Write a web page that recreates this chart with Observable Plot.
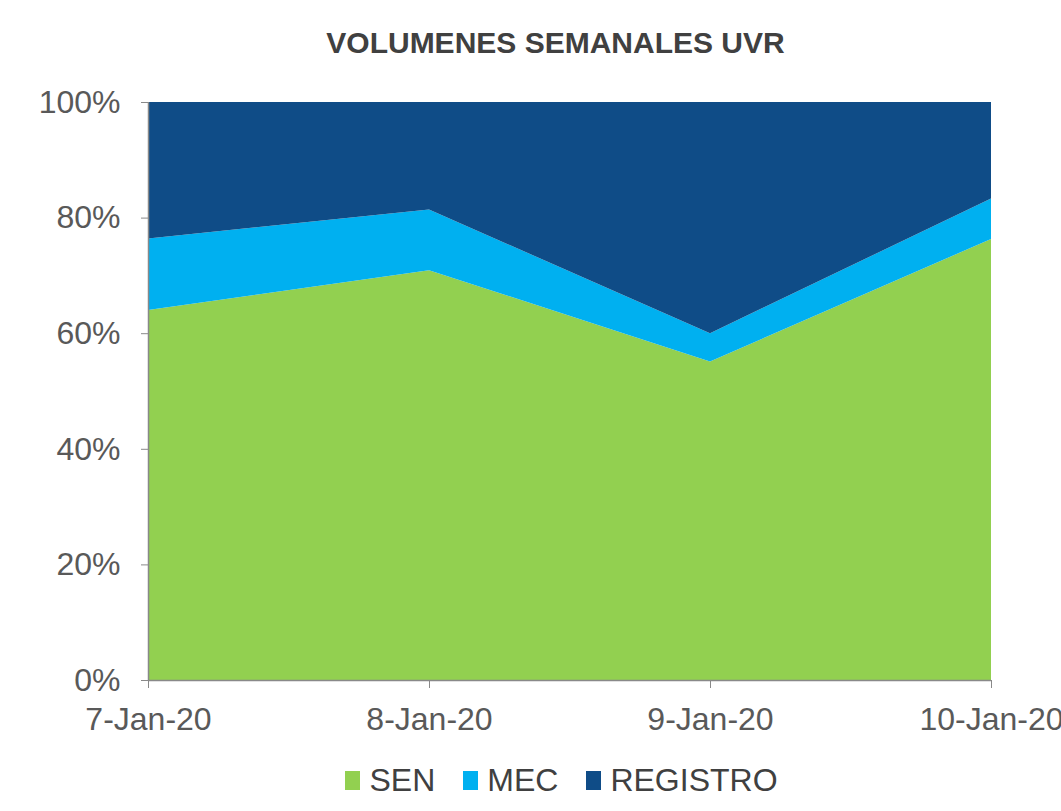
<!DOCTYPE html>
<html>
<head>
<meta charset="utf-8">
<script src="https://cdn.jsdelivr.net/npm/d3@7"></script>
<script src="https://cdn.jsdelivr.net/npm/@observablehq/plot@0.6"></script>
<style>
  body { margin: 0; background: #fff; font-family: "Liberation Sans", Arial, sans-serif; width: 1061px; overflow: hidden; }
  #title { height: 85px; box-sizing: border-box; padding-top: 27px; text-align: center; font-weight: bold; font-size: 30px; color: #404040; line-height: 32px; padding-left: 50px; }
  #legend { height: 61px; display: flex; justify-content: center; align-items: center; gap: 0; font-size: 32px; color: #404040; padding-left: 90px; box-sizing: border-box; }
  .item { display: flex; align-items: center; margin-right: 28px; }
  .sw { width: 15px; height: 19px; margin-right: 9px; }
</style>
</head>
<body>
<div id="title">VOLUMENES SEMANALES UVR</div>
<div id="chart"></div>
<div id="legend"></div>
<script>
const dates = ["7-Jan-20", "8-Jan-20", "9-Jan-20", "10-Jan-20"];
const seriesNames = ["SEN", "MEC", "REGISTRO"];
const colors = ["#92D050", "#00B0F0", "#0F4C87"];
const sen = [64.0, 70.9, 55.1, 76.3];
const mec = [12.4, 10.5, 4.9, 7.0];
const registro = [23.6, 18.6, 40.0, 16.7];
const yTicks = [0, 20, 40, 60, 80, 100];

const seriesValues = [sen, mec, registro];
const data = [];
seriesNames.forEach((s, i) => dates.forEach((d, j) => data.push({date: d, series: s, value: seriesValues[i][j]})));

const chart = Plot.plot({
  width: 1061,
  height: 665,
  marginTop: 17,
  marginBottom: 70,
  marginLeft: 148,
  marginRight: 70,
  style: {fontFamily: "'Liberation Sans', Arial, sans-serif", fontSize: "32px", color: "#595959", overflow: "visible"},
  x: {type: "point", domain: dates, padding: 0, label: null},
  y: {domain: [0, 100], label: null},
  color: {domain: seriesNames, range: colors},
  marks: [
    Plot.areaY(data, {x: "date", y: "value", fill: "series", order: seriesNames, curve: "linear"}),
    Plot.axisY({ticks: yTicks, tickFormat: d => d + "%", tickSize: 7, tickPadding: 21, stroke: "#898989", fill: "#595959", fontSize: 32}),
    Plot.axisX({tickSize: 8, tickPadding: 19, stroke: "#898989", fill: "#595959", fontSize: 32}),
    Plot.ruleX([0], {x: () => dates[0], y1: 0, y2: 100, stroke: "#898989", strokeWidth: 1.5}),
    Plot.ruleY([0], {stroke: "#898989", strokeWidth: 1.5})
  ]
});
document.getElementById("chart").appendChild(chart);

const legend = document.getElementById("legend");
seriesNames.forEach((s, i) => {
  const it = document.createElement("div");
  it.className = "item";
  const sw = document.createElement("div");
  sw.className = "sw";
  sw.style.background = colors[i];
  const t = document.createElement("span");
  t.textContent = s;
  it.appendChild(sw);
  it.appendChild(t);
  legend.appendChild(it);
});
</script>
</body>
</html>
